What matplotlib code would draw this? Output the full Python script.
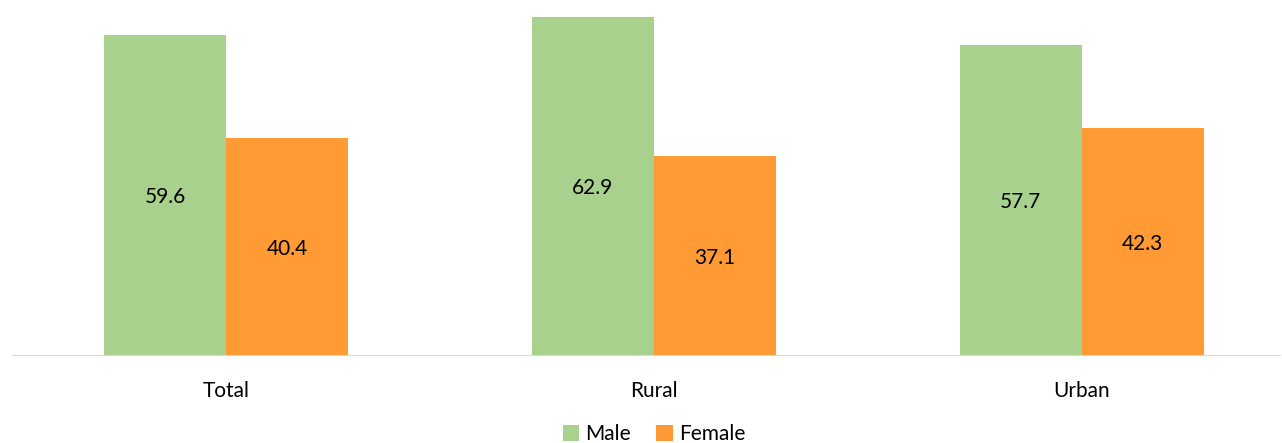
import numpy as np
import matplotlib.pyplot as plt

plt.rcParams['font.family'] = ['Lato', 'DejaVu Sans']

# Data
categories = ["Total", "Rural", "Urban"]
male = [59.6, 62.9, 57.7]
female = [40.4, 37.1, 42.3]

green = "#A9D18E"
orange = "#FF9A35"

fig = plt.figure(figsize=(12.82, 4.43), dpi=100)
ax = fig.add_axes([12 / 1282, 88 / 443, 1268 / 1282, 355 / 443])

x = np.arange(len(categories))
w = 0.285
b1 = ax.bar(x - w / 2, male, w, color=green, label="Male")
b2 = ax.bar(x + w / 2, female, w, color=orange, label="Female")

for bars in (b1, b2):
    for b in bars:
        ax.text(b.get_x() + b.get_width() / 2, b.get_height() / 2 - 0.4,
                f"{b.get_height():.1f}", ha="center", va="center", fontsize=15)

ax.set_xlim(-0.5, 2.463)
ax.set_ylim(0, 66.1)
ax.set_xticks(x)
ax.set_xticklabels(categories, fontsize=15)
ax.tick_params(axis="x", length=0, pad=19)
ax.set_yticks([])
for s in ["top", "right", "left"]:
    ax.spines[s].set_visible(False)
ax.spines["bottom"].set_color("#D9D9D9")

fig.legend(loc="lower center", bbox_to_anchor=(654 / 1282, -0.045), ncol=2,
           frameon=False, fontsize=15, handlelength=0.8, handleheight=0.8,
           handletextpad=0.3, columnspacing=1.2)

fig.savefig("out.png", dpi=100)
